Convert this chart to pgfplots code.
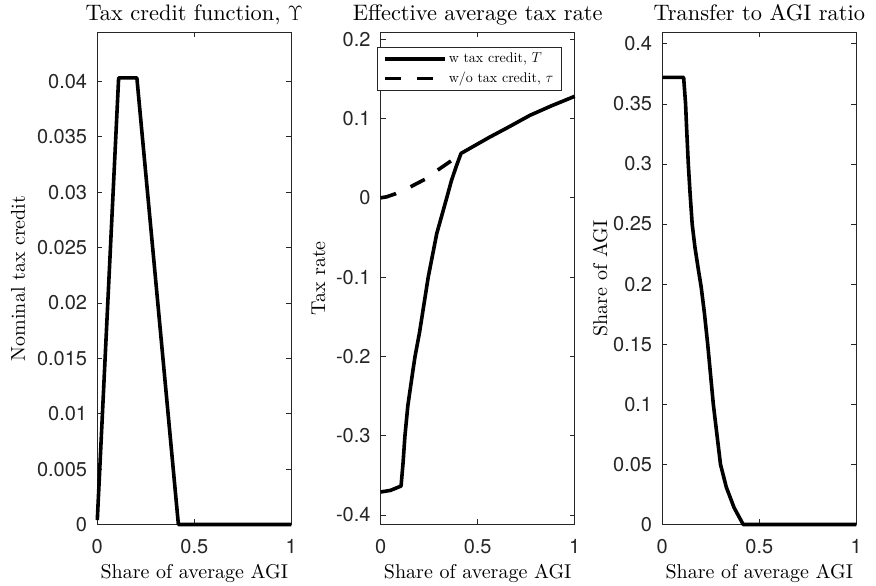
\documentclass[border=0pt]{standalone}
\usepackage{fontspec}
\setmainfont{lmroman10-regular}[Extension=.otf, ItalicFont=lmroman10-italic, BoldFont=lmroman10-bold, BoldItalicFont=lmroman10-bolditalic]
\usepackage{pgfplots}
\pgfplotsset{compat=1.18}
\newfontfamily\heros{TeX Gyre Heros}

\pgfplotsset{
  mystyle/.style={
    scale only axis, width=194pt, height=492pt, anchor=south west,
    axis line style={draw=black!85, line width=0.7pt},
    every tick/.style={draw=black!85, line width=0.7pt},
    tick align=inside, major tick length=5pt,
    scaled ticks=false,
    xmin=0, xmax=1, xtick={0,0.5,1}, xticklabels={0,0.5,1},
    tick label style={font=\heros\fontsize{20}{24}\selectfont, text=black!85},
    xticklabel style={anchor=base, yshift=-29.5pt, inner sep=0pt},
    yticklabel style={anchor=east, xshift=-10pt, inner sep=0pt},
    title style={at={(axis description cs:0.5,1)}, anchor=base, yshift=5.5pt, inner sep=0pt, font=\fontsize{22.4}{27}\selectfont},
    xlabel style={at={(axis description cs:0.5,0)}, anchor=base, yshift=-54.5pt, inner sep=0pt, font=\fontsize{20}{24}\selectfont},
    xlabel={Share of average AGI},
    clip=false,
  },
  myline/.style={line width=3.6pt, black, line join=round},
}

\begin{document}
\begin{tikzpicture}
\path[use as bounding box] (0,0) rectangle (876pt,586pt);

% Panel 1
\begin{axis}[mystyle, at={(97.3pt,61.5pt)},
  ymin=0, ymax=0.0444,
  ytick={0,0.005,0.01,0.015,0.02,0.025,0.03,0.035,0.04},
  yticklabels={0,0.005,0.01,0.015,0.02,0.025,0.03,0.035,0.04},
  title={Tax credit function, $\Upsilon$},
  ylabel={Nominal tax credit},
  ylabel style={at={(axis description cs:-0.3727,0.5)}, anchor=base, inner sep=0pt, font=\fontsize{20}{24}\selectfont},
]
\addplot[myline] coordinates {(0,0.0004) (0.11,0.0403) (0.204,0.0403) (0.418,0) (1,0)};
\end{axis}

% Panel 2
\begin{axis}[mystyle, at={(380.7pt,61.5pt)},
  ymin=-0.412, ymax=0.2085,
  ytick={-0.4,-0.3,-0.2,-0.1,0,0.1,0.2},
  yticklabels={-0.4,-0.3,-0.2,-0.1,0,0.1,0.2},
  title={Effective average tax rate},
  ylabel={Tax rate},
  ylabel style={at={(axis description cs:-0.287,0.5)}, anchor=base, inner sep=0pt, font=\fontsize{20}{24}\selectfont},
  legend style={at={(-0.02,0.97)}, anchor=north west, draw=black!85, line width=0.7pt, fill=white,
    font=\fontsize{14}{16}\selectfont, inner xsep=6pt, inner ysep=3.5pt, row sep=4pt},
  legend cell align=left,
  legend image code/.code={\draw[#1, line width=3.6pt] (0pt,0pt) -- (60pt,0pt);},
]
\addplot[myline] coordinates {(0,-0.371) (0.05,-0.369) (0.105,-0.3635) (0.115,-0.335) (0.125,-0.30) (0.14,-0.262) (0.165,-0.2195) (0.177,-0.2) (0.2,-0.17) (0.245,-0.1) (0.289,-0.045) (0.337,-0.003) (0.365,0.022) (0.39,0.04) (0.414,0.056) (0.5,0.068) (0.563,0.0767) (0.65,0.088) (0.769,0.104) (0.88,0.116) (1,0.128)};
\addlegendentry{w tax credit, $T$}
\addplot[myline, dash pattern=on 16pt off 16pt] coordinates {(0,0) (0.03,0.0012) (0.075,0.005) (0.15,0.0134) (0.23,0.0236) (0.294,0.035) (0.363,0.0466) (0.414,0.0558)};
\addlegendentry{w/o tax credit, $\tau$}
\end{axis}

% Panel 3
\begin{axis}[mystyle, at={(662.3pt,61.5pt)},
  ymin=0, ymax=0.4094,
  ytick={0,0.05,0.1,0.15,0.2,0.25,0.3,0.35,0.4},
  yticklabels={0,0.05,0.1,0.15,0.2,0.25,0.3,0.35,0.4},
  title={Transfer to AGI ratio},
  ylabel={Share of AGI},
  ylabel style={at={(axis description cs:-0.285,0.5)}, anchor=base, inner sep=0pt, font=\fontsize{20}{24}\selectfont},
]
\addplot[myline] coordinates {(0,0.372) (0.11,0.372) (0.12,0.35) (0.125,0.331) (0.134,0.30) (0.143,0.276) (0.154,0.25) (0.168,0.231) (0.185,0.213) (0.2,0.198) (0.217,0.176) (0.234,0.15) (0.263,0.10) (0.30,0.05) (0.33,0.031) (0.37,0.014) (0.417,0) (1,0)};
\end{axis}
\end{tikzpicture}
\end{document}
